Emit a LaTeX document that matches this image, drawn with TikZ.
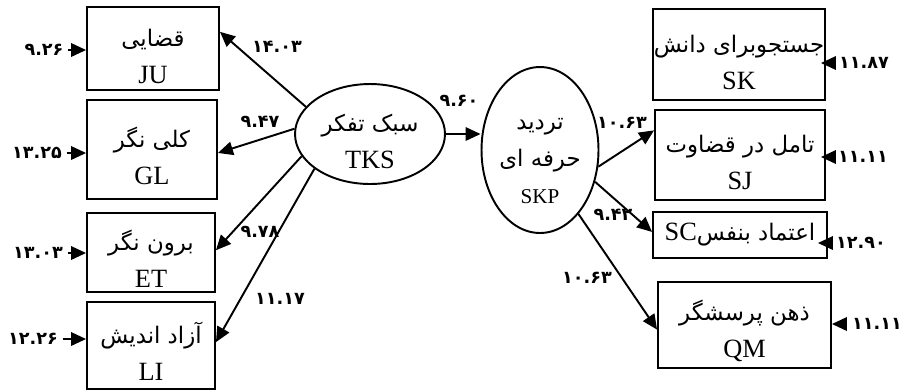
\documentclass[tikz,border=0pt]{standalone}
\usepackage{fontspec}
\setmainfont{Liberation Serif}
\newfontfamily\farsi[Script=Arabic]{DejaVu Sans}
\TeXXeTstate=1
\usepackage{tikz}
\usetikzlibrary{arrows.meta}
\usetikzlibrary{shapes.geometric}
\newcommand{\fatxt}[1]{{\farsi\fontsize{13}{21}\selectfont\beginR #1\endR}}
\newcommand{\fatop}[1]{\rule{0pt}{18.5pt}\fatxt{#1}}

\begin{document}
\begin{tikzpicture}[x=0.02cm, y=-0.02cm,
    obs/.style={draw, line width=1.1pt, align=center, inner sep=0pt, font=\fontsize{15}{21}\selectfont},
    lat/.style={draw, ellipse, line width=1.1pt, align=center, inner sep=0pt, font=\fontsize{15}{21}\selectfont},
    link/.style={-{Triangle[length=0.3cm, width=0.27cm]}, line width=1.1pt},
    coef/.style={inner sep=2.5pt, font=\farsi\bfseries\fontsize{10}{12}\selectfont}]
    \useasboundingbox (0,0) rectangle (901,390);

    \node [obs, minimum width=2.64cm, minimum height=1.66cm] (JU) at (153,48.5) {\fatop{قضایی}\\JU};
    \node [obs, minimum width=2.6cm, minimum height=1.98cm] (GL) at (152,149.5) {\fatop{کلی نگر}\\GL};
    \node [obs, minimum width=2.56cm, minimum height=1.58cm] (ET) at (151,252.5) {\fatop{برون نگر}\\ET};
    \node [obs, minimum width=2.56cm, minimum height=1.74cm] (LI) at (151,345.5) {\fatop{آزاد اندیش}\\LI};

    \node [lat, minimum width=3cm, minimum height=2cm] (TKS) at (370,134) {\fatop{سبک تفکر}\\TKS};
    \node [lat, minimum width=2.34cm, minimum height=3.32cm] (SKP) at (540,150)
        {\fatop{تردید}\\\fatxt{حرفه ای}\\{\fontsize{12}{21}\selectfont SKP}};

    \node [obs, minimum width=3.44cm, minimum height=1.82cm] (SK) at (739,54.5) {\fatop{جستجوبرای دانش}\\SK};
    \node [obs, minimum width=3.4cm, minimum height=1.8cm] (SJ) at (740,155) {\fatop{تامل در قضاوت}\\SJ};
    \node [obs, minimum width=3.48cm, minimum height=0.92cm] (SC) at (740,235) {SC\fatxt{اعتماد بنفس}};
    \node [obs, minimum width=3.46cm, minimum height=1.72cm] (QM) at (744.5,325) {\fatop{ذهن پرسشگر}\\QM};

    \draw [link] (TKS.157) -- (JU.14);
    \draw [link] (TKS.176) -- (GL.-3);
    \draw [link] (TKS.198) -- (ET.2);
    \draw [link] (TKS.212) -- (LI.3);
    \draw [link] (TKS.east) -- (TKS.east -| SKP.west);
    \draw [link] (SKP.-16) -- (SJ.164);
    \draw [link] (SKP.-30) -- (SC.178);
    \draw [link] (SKP.-59) -- (QM.183);

    \node [coef] (lJU) at (277,47) {۱۴.۰۳};
    \node [coef] (lGL) at (260,122) {۹.۴۷};
    \node [coef] (lET) at (260,232) {۹.۷۸};
    \node [coef] (lLI) at (280,299) {۱۱.۱۷};
    \node [coef] (lSKP) at (459,101) {۹.۶۰};
    \node [coef] (lSJ) at (622,123) {۱۰.۶۳};
    \node [coef] (lSC) at (613,215) {۹.۴۲};
    \node [coef] (lQM) at (587,278) {۱۰.۶۳};

    \node [coef] (eJU) at (44,50) {۹.۲۶};
    \node [coef] (eGL) at (37,153) {۱۳.۲۵};
    \node [coef] (eET) at (38,253) {۱۳.۰۳};
    \node [coef] (eLI) at (33,339) {۱۲.۲۶};
    \draw [link] (eJU.east) -- (eJU.east -| JU.west);
    \draw [link] (eGL.east) -- (eGL.east -| GL.west);
    \draw [link] (eET.east) -- (eET.east -| ET.west);
    \draw [link] (eLI.east) -- (eLI.east -| LI.west);

    \node [coef] (eSK) at (864,63) {۱۱.۸۷};
    \node [coef] (eSJ) at (863,157) {۱۱.۱۱};
    \node [coef] (eSC) at (861,243) {۱۲.۹۰};
    \node [coef] (eQM) at (877,324) {۱۱.۱۱};
    \draw [link, shorten >=-0.1cm] (eSK.west) -- (eSK.west -| SK.east);
    \draw [link, shorten >=-0.1cm] (eSJ.west) -- (eSJ.west -| SJ.east);
    \draw [link, shorten >=-0.2cm] (eSC.west) -- (eSC.west -| SC.east);
    \draw [link] (eQM.west) -- (eQM.west -| QM.east);
\end{tikzpicture}
\end{document}
